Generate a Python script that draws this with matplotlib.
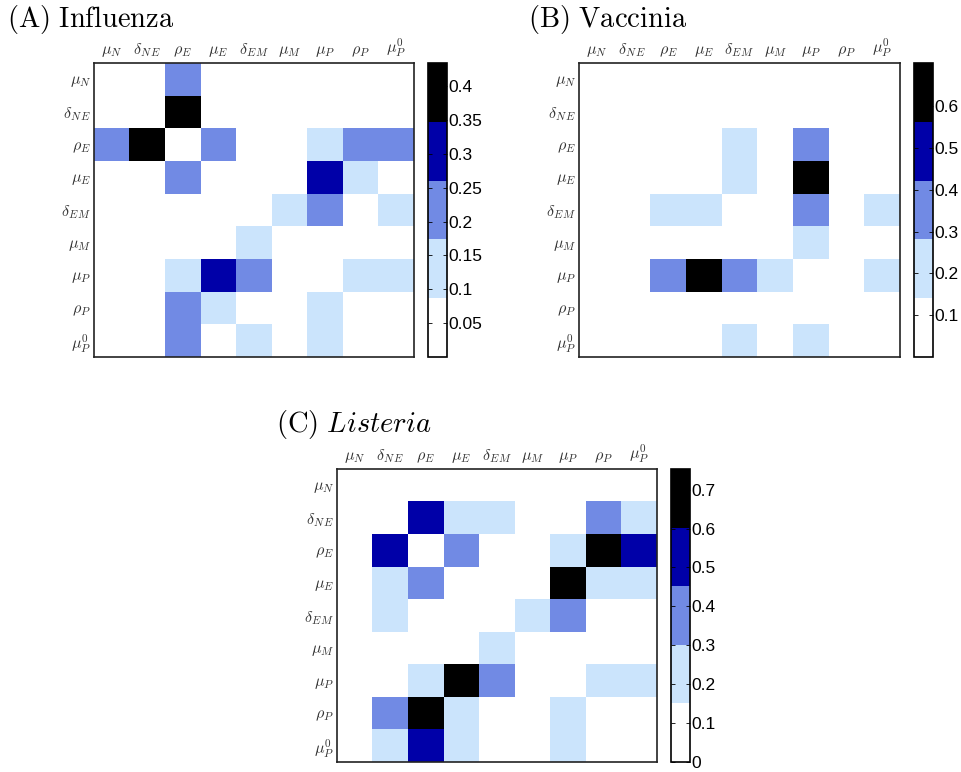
import numpy as np
import matplotlib
matplotlib.use("Agg")
import matplotlib.pyplot as plt
from matplotlib.colors import ListedColormap, Normalize

plt.rcParams['mathtext.fontset'] = 'cm'

params = [r'$\mu_N$', r'$\delta_{N\,E}$', r'$\rho_E$', r'$\mu_E$', r'$\delta_{E\,M}$',
          r'$\mu_M$', r'$\mu_P$', r'$\rho_P$', r'$\mu_P^0$']

influenza = [
    [0.00, 0.02, 0.21, 0.03, 0.01, 0.02, 0.04, 0.03, 0.02],
    [0.02, 0.00, 0.434, 0.05, 0.02, 0.01, 0.03, 0.06, 0.04],
    [0.21, 0.434, 0.00, 0.20, 0.05, 0.03, 0.13, 0.22, 0.21],
    [0.03, 0.05, 0.20, 0.00, 0.06, 0.02, 0.31, 0.12, 0.07],
    [0.01, 0.02, 0.05, 0.06, 0.00, 0.11, 0.23, 0.04, 0.12],
    [0.02, 0.01, 0.03, 0.02, 0.11, 0.00, 0.05, 0.02, 0.03],
    [0.04, 0.03, 0.13, 0.31, 0.23, 0.05, 0.00, 0.14, 0.13],
    [0.03, 0.06, 0.22, 0.12, 0.04, 0.02, 0.14, 0.00, 0.05],
    [0.02, 0.04, 0.21, 0.07, 0.12, 0.03, 0.13, 0.05, 0.00],
]
vaccinia = [
    [0.00, 0.03, 0.02, 0.04, 0.05, 0.02, 0.06, 0.03, 0.02],
    [0.03, 0.00, 0.05, 0.04, 0.03, 0.02, 0.07, 0.04, 0.03],
    [0.02, 0.05, 0.00, 0.09, 0.19, 0.06, 0.36, 0.05, 0.08],
    [0.04, 0.04, 0.09, 0.00, 0.21, 0.07, 0.704, 0.06, 0.10],
    [0.05, 0.03, 0.19, 0.21, 0.00, 0.11, 0.34, 0.08, 0.18],
    [0.02, 0.02, 0.06, 0.07, 0.11, 0.00, 0.17, 0.04, 0.09],
    [0.06, 0.07, 0.36, 0.704, 0.34, 0.17, 0.00, 0.10, 0.20],
    [0.03, 0.04, 0.05, 0.06, 0.08, 0.04, 0.10, 0.00, 0.05],
    [0.02, 0.03, 0.08, 0.10, 0.18, 0.09, 0.20, 0.05, 0.00],
]
listeria = [
    [0.00, 0.04, 0.06, 0.03, 0.05, 0.02, 0.07, 0.04, 0.03],
    [0.04, 0.00, 0.52, 0.22, 0.19, 0.08, 0.11, 0.36, 0.21],
    [0.06, 0.52, 0.00, 0.38, 0.12, 0.07, 0.23, 0.753, 0.55],
    [0.03, 0.22, 0.38, 0.00, 0.09, 0.10, 0.69, 0.24, 0.20],
    [0.05, 0.19, 0.12, 0.09, 0.00, 0.18, 0.37, 0.13, 0.10],
    [0.02, 0.08, 0.07, 0.10, 0.18, 0.00, 0.12, 0.06, 0.05],
    [0.07, 0.11, 0.23, 0.69, 0.37, 0.12, 0.00, 0.21, 0.22],
    [0.04, 0.36, 0.753, 0.24, 0.13, 0.06, 0.21, 0.00, 0.09],
    [0.03, 0.21, 0.55, 0.20, 0.10, 0.05, 0.22, 0.09, 0.00],
]

titles = [r'$\mathrm{(A)\ Influenza}$', r'$\mathrm{(B)\ Vaccinia}$', r'$\mathrm{(C)}\ \mathit{Listeria}$']
cbar_ticks = [
    [0.05, 0.1, 0.15, 0.2, 0.25, 0.3, 0.35, 0.4],
    [0.1, 0.2, 0.3, 0.4, 0.5, 0.6],
    [0, 0.1, 0.2, 0.3, 0.4, 0.5, 0.6, 0.7],
]
cbar_ticklabels = [
    ['0.05', '0.1', '0.15', '0.2', '0.25', '0.3', '0.35', '0.4'],
    ['0.1', '0.2', '0.3', '0.4', '0.5', '0.6'],
    ['0', '0.1', '0.2', '0.3', '0.4', '0.5', '0.6', '0.7'],
]

colors = ['#ffffff', '#cbe4fc', '#718ae4', '#0000a8', '#000000']
cmap = ListedColormap(colors)

W, H = 962, 772
fig = plt.figure(figsize=(W / 100, H / 100), dpi=100)

def px(x0, y0, x1, y1):
    return [x0 / W, 1 - y1 / H, (x1 - x0) / W, (y1 - y0) / H]

layout = [
    # axes box, colorbar box, title pos
    ((94, 63, 414, 357), (428, 63, 447, 357), (7, 27)),
    ((579, 63, 900, 357), (914, 63, 933, 357), (528, 27)),
    ((337, 469, 657, 762), (671, 469, 690, 762), (276, 432)),
]

for data, title, ticks, tlabels, (abox, cbox, tpos) in zip(
        [influenza, vaccinia, listeria], titles, cbar_ticks, cbar_ticklabels, layout):
    arr = np.array(data)
    ax = fig.add_axes(px(*abox))
    norm = Normalize(vmin=0.0, vmax=arr.max())
    im = ax.imshow(arr, cmap=cmap, norm=norm, aspect='auto', interpolation='nearest')
    ax.set_xticks(range(len(params)))
    ax.set_yticks(range(len(params)))
    ax.set_xticklabels(params, fontsize=11.5, color='#333333')
    ax.set_yticklabels(params, fontsize=11.5, color='#333333')
    ax.xaxis.tick_top()
    ax.tick_params(length=0, pad=3)
    ax.tick_params(axis='y', pad=2)
    for s in ax.spines.values():
        s.set_linewidth(1.2)
        s.set_color('#222222')
    cax = fig.add_axes(px(*cbox))
    cb = fig.colorbar(im, cax=cax)
    cb.set_ticks(ticks)
    cb.set_ticklabels(tlabels)
    cax.tick_params(direction='in', left=True, right=True, length=3, width=0.6,
                    labelsize=12.5, pad=1)
    for lab in cax.get_yticklabels():
        lab.set_fontfamily('Liberation Sans')
    cb.outline.set_linewidth(1.2)
    fig.text(tpos[0] / W, 1 - tpos[1] / H, title, fontsize=20.5, va='baseline', ha='left')

fig.savefig('out.png', dpi=100)
